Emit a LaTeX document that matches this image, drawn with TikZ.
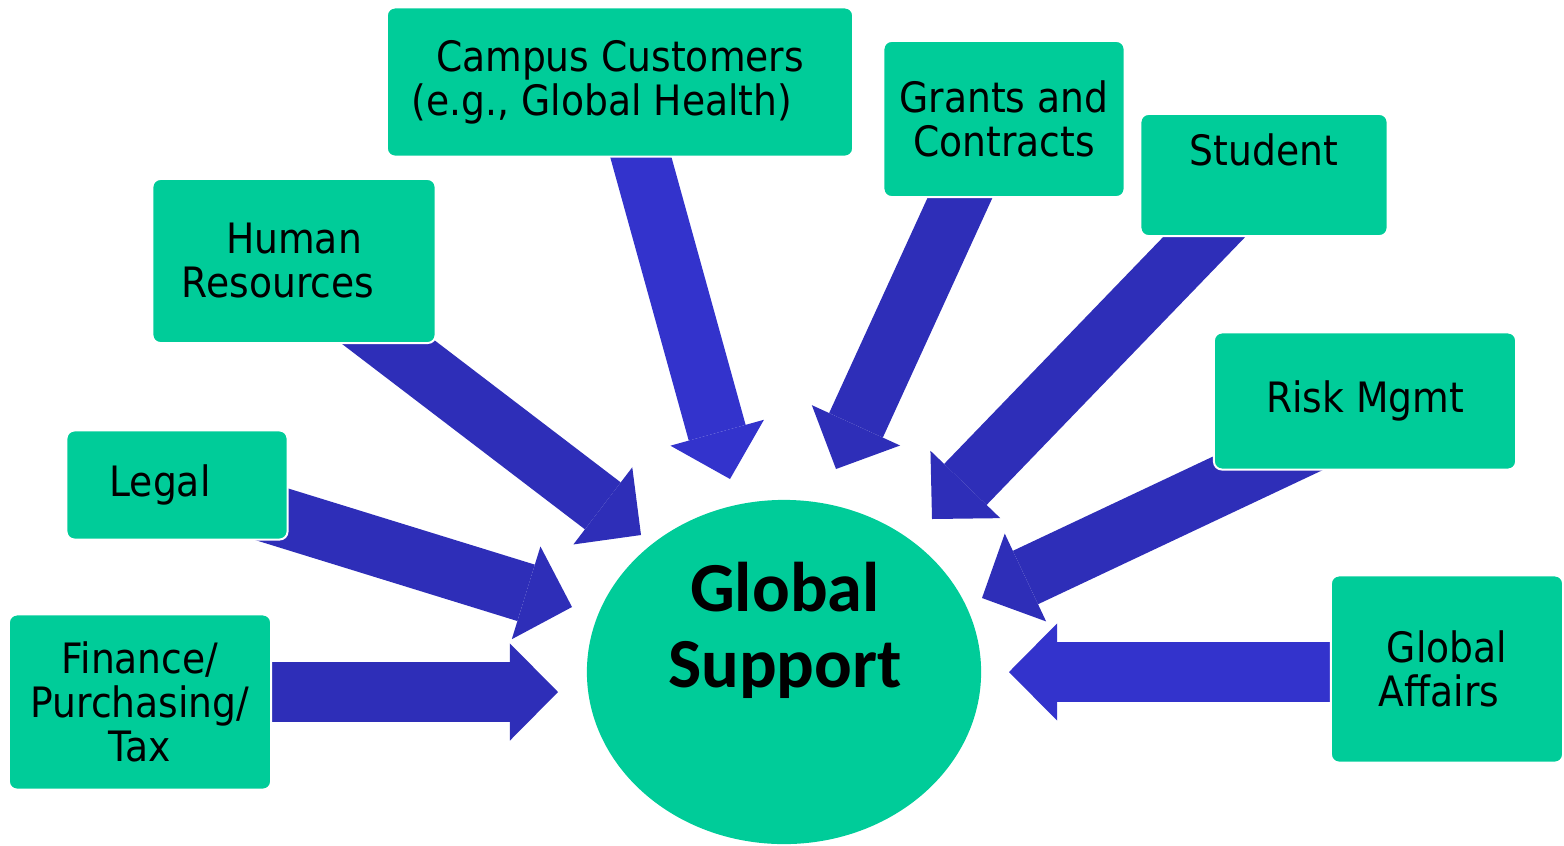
\documentclass[tikz,border=0pt]{standalone}
\usepackage{fontspec}
\setmainfont{DejaVu Sans}[FakeStretch=0.9]
\newfontfamily\hubfont{Carlito}
\usetikzlibrary{arrows.meta,shapes.geometric,backgrounds}
\definecolor{sea}{RGB}{0,204,153}
\definecolor{ink}{RGB}{46,46,184}
\definecolor{inklt}{RGB}{51,51,204}
\tikzset{box/.style={rectangle, rounded corners=0.08cm, fill=sea, draw=white, line width=0.02cm, align=center, inner sep=0pt, font=\fontsize{11.9pt}{12.5pt}\selectfont},
hub/.style={ellipse, fill=sea, inner sep=0pt, minimum width=3.94cm, minimum height=3.44cm},
flow/.style={line width=0.59cm, ink, -{Triangle[width=0.97cm, length=0.48cm, line width=0pt]}}}
\begin{document}
\begin{tikzpicture}[x=0.01cm, y=-0.01cm]
  \useasboundingbox (0,0) rectangle (1564,845);
  \node[hub] (gs) at (784,672) {};
  \node[align=center, inner sep=0pt, font=\hubfont\bfseries\fontsize{20pt}{21.6pt}\selectfont] (gs-l) at (785,630) {Global\\Support};
  \node[box, minimum width=4.66cm, minimum height=1.49cm] (campus) at (620,82) {Campus Customers\\(e.g., Global Health)\hspace*{0.36cm}};
  \node[box, minimum width=2.83cm, minimum height=1.64cm] (hr) at (294,261) {Human\\Resources\hspace*{0.32cm}};
  \node[box, minimum width=2.21cm, minimum height=1.09cm] (legal) at (177,485) {Legal\hspace*{0.34cm}};
  \node[box, minimum width=2.62cm, minimum height=1.75cm] (fin) at (140,702) {Finance/\\Purchasing/\\Tax};
  \node[box, minimum width=2.41cm, minimum height=1.56cm] (grants) at (1004,119) {Grants and\\Contracts};
  \node[box, minimum width=2.47cm, minimum height=1.22cm, text depth=0.5cm] (stud) at (1264,175) {Student};
  \node[box, minimum width=3.02cm, minimum height=1.37cm] (risk) at (1365,401) {Risk Mgmt};
  \node[box, minimum width=2.32cm, minimum height=1.87cm] (ga) at (1447,669) {Global\\Affairs\hspace*{0.16cm}};
  \coordinate (fin-t) at (558,692);
  \coordinate (legal-t) at (572,607);
  \coordinate (hr-t) at (641,535);
  \coordinate (campus-t) at (730,479);
  \coordinate (grants-t) at (836,469);
  \coordinate (stud-t) at (932,519);
  \coordinate (risk-t) at (982,598);
  \coordinate (ga-t) at (1009,672);
  \begin{scope}[on background layer]
  \draw[flow] (fin.center |- fin-t) -- (fin-t);
  \draw[flow] (legal.center) -- (legal-t);
  \draw[flow] ([xshift=-0.12cm]hr.center) -- (hr-t);
  \draw[flow, inklt] (campus.center) -- (campus-t);
  \draw[flow] ([xshift=-0.08cm]grants.center) -- (grants-t);
  \draw[flow] (stud.center) -- (stud-t);
  \draw[flow] ([yshift=-0.165cm]risk.center) -- (risk-t);
  \draw[flow, inklt] (ga.center |- ga-t) -- (ga-t);
  \end{scope}
\end{tikzpicture}
\end{document}
